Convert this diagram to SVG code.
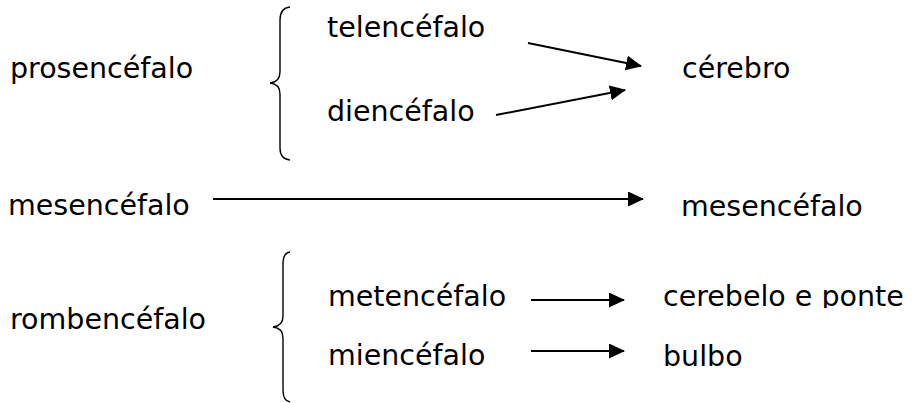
<svg xmlns="http://www.w3.org/2000/svg" width="912" height="403" viewBox="0 0 912 403">
  <style>
    text { font-family: "DejaVu Sans", Verdana, sans-serif; font-size: 28.5px; fill: #000; }
    .brace { fill: none; stroke: #000; stroke-width: 1.4; }
    .link { fill: none; stroke: #000; stroke-width: 2; marker-end: url(#head); }
  </style>
  <defs>
    <marker id="head" viewBox="0 0 16 15" refX="15" refY="7.5" markerWidth="16" markerHeight="15" markerUnits="userSpaceOnUse" orient="auto">
      <path d="M0,0 L16,7.5 L0,15 Z" fill="#000"/>
    </marker>
    <clipPath id="cutBottom">
      <rect x="600" y="260" width="312" height="48"/>
    </clipPath>
  </defs>

  <g id="prosencefalo"><text x="10" y="78">prosencéfalo</text></g>
  <g id="brace-prosencefalo"><path class="brace" d="M290,7 Q280,8 280,20 L280,72 Q280,82 270,83 Q280,84 280,94 L280,148 Q280,159 290,160"/></g>
  <g id="telencefalo"><text x="327" y="37">telencéfalo</text></g>
  <g id="diencefalo"><text x="327" y="121">diencéfalo</text></g>
  <g id="cerebro"><text x="682" y="78">cérebro</text></g>

  <g id="mesencefalo"><text x="8" y="215">mesencéfalo</text></g>
  <g id="mesencefalo-adulto"><text x="681" y="216">mesencéfalo</text></g>

  <g id="rombencefalo"><text x="10" y="329">rombencéfalo</text></g>
  <g id="brace-rombencefalo"><path class="brace" d="M290,252 Q283,253 283,264 L283,316 Q283,326 273,327 Q283,328 283,338 L283,390 Q283,401 290,402"/></g>
  <g id="metencefalo"><text x="328" y="306">metencéfalo</text></g>
  <g id="miencefalo"><text x="328" y="365">miencéfalo</text></g>
  <g id="cerebelo-ponte"><text x="663" y="306" clip-path="url(#cutBottom)">cerebelo e ponte</text></g>
  <g id="bulbo"><text x="663" y="366">bulbo</text></g>

  <g id="connectors">
    <line class="link" x1="528" y1="43" x2="641" y2="66"/>
    <line class="link" x1="496" y1="115" x2="625" y2="90"/>
    <line class="link" x1="213" y1="199" x2="643" y2="199"/>
    <line class="link" x1="531" y1="300" x2="624" y2="300"/>
    <line class="link" x1="531" y1="351" x2="624" y2="351"/>
  </g>
</svg>
